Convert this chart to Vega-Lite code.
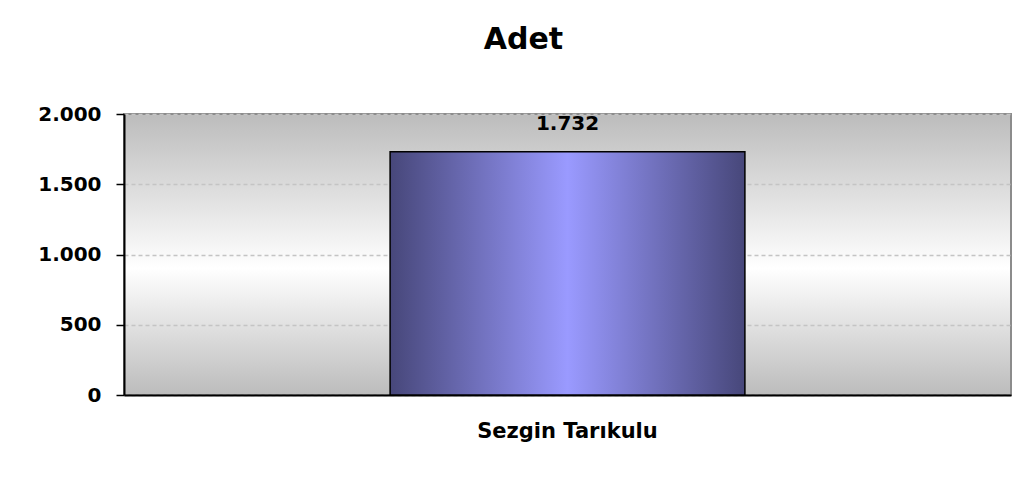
{
  "$schema": "https://vega.github.io/schema/vega-lite/v6.json",
  "autosize": "none",
  "width": 887,
  "height": 281,
  "padding": {"left": 124, "top": 114, "right": 24, "bottom": 86},
  "background": "white",
  "title": {
    "text": "Adet",
    "font": "DejaVu Sans",
    "fontSize": 30,
    "fontWeight": "bold",
    "color": "black",
    "anchor": "middle",
    "dx": -44,
    "offset": 49
  },
  "config": {
    "locale": {"number": {"decimal": ",", "thousands": ".", "grouping": [3], "currency": ["", " TL"]}},
    "view": {
      "stroke": "#8c8c8c",
      "strokeWidth": 2,
      "fill": {
        "gradient": "linear",
        "x1": 0, "y1": 0, "x2": 0, "y2": 1,
        "stops": [
          {"offset": 0, "color": "#bcbcbc"},
          {"offset": 0.55, "color": "#ffffff"},
          {"offset": 1, "color": "#bcbcbc"}
        ]
      }
    }
  },
  "data": {"values": [{"kisi": "Sezgin Tarıkulu", "adet": 1732}]},
  "encoding": {
    "x": {
      "field": "kisi",
      "type": "nominal",
      "scale": {"paddingInner": 0.6, "paddingOuter": 0.3},
      "axis": {
        "title": null,
        "labelAngle": 0,
        "labelFont": "DejaVu Sans",
        "labelFontSize": 21,
        "labelFontWeight": "bold",
        "labelColor": "black",
        "labelPadding": 25,
        "labelLimit": 0,
        "ticks": false,
        "domainColor": "black",
        "domainWidth": 2,
        "grid": false
      }
    },
    "y": {
      "field": "adet",
      "type": "quantitative",
      "scale": {"domain": [0, 2000], "nice": false},
      "axis": {
        "title": null,
        "values": [0, 500, 1000, 1500, 2000],
        "format": ",d",
        "labelFont": "DejaVu Sans",
        "labelFontSize": 20,
        "labelFontWeight": "bold",
        "labelColor": "black",
        "labelPadding": 15,
        "tickSize": 8,
        "tickColor": "black",
        "tickWidth": 1.5,
        "domainColor": "black",
        "domainWidth": 2,
        "grid": true,
        "gridColor": "#c4c4c4",
        "gridDash": [4, 3],
        "gridWidth": 1.5
      }
    }
  },
  "layer": [
    {
      "mark": {
        "type": "bar",
        "stroke": "black",
        "strokeWidth": 1.5,
        "color": {
          "gradient": "linear",
          "x1": 0, "y1": 0, "x2": 1, "y2": 0,
          "stops": [
            {"offset": 0, "color": "#47477a"},
            {"offset": 0.5, "color": "#9a9aff"},
            {"offset": 1, "color": "#47477a"}
          ]
        }
      }
    },
    {
      "mark": {
        "type": "text",
        "baseline": "bottom",
        "dy": -18,
        "font": "DejaVu Sans",
        "fontSize": 20,
        "fontWeight": "bold",
        "color": "black"
      },
      "encoding": {"text": {"field": "adet", "type": "quantitative", "format": ",d"}}
    }
  ]
}
